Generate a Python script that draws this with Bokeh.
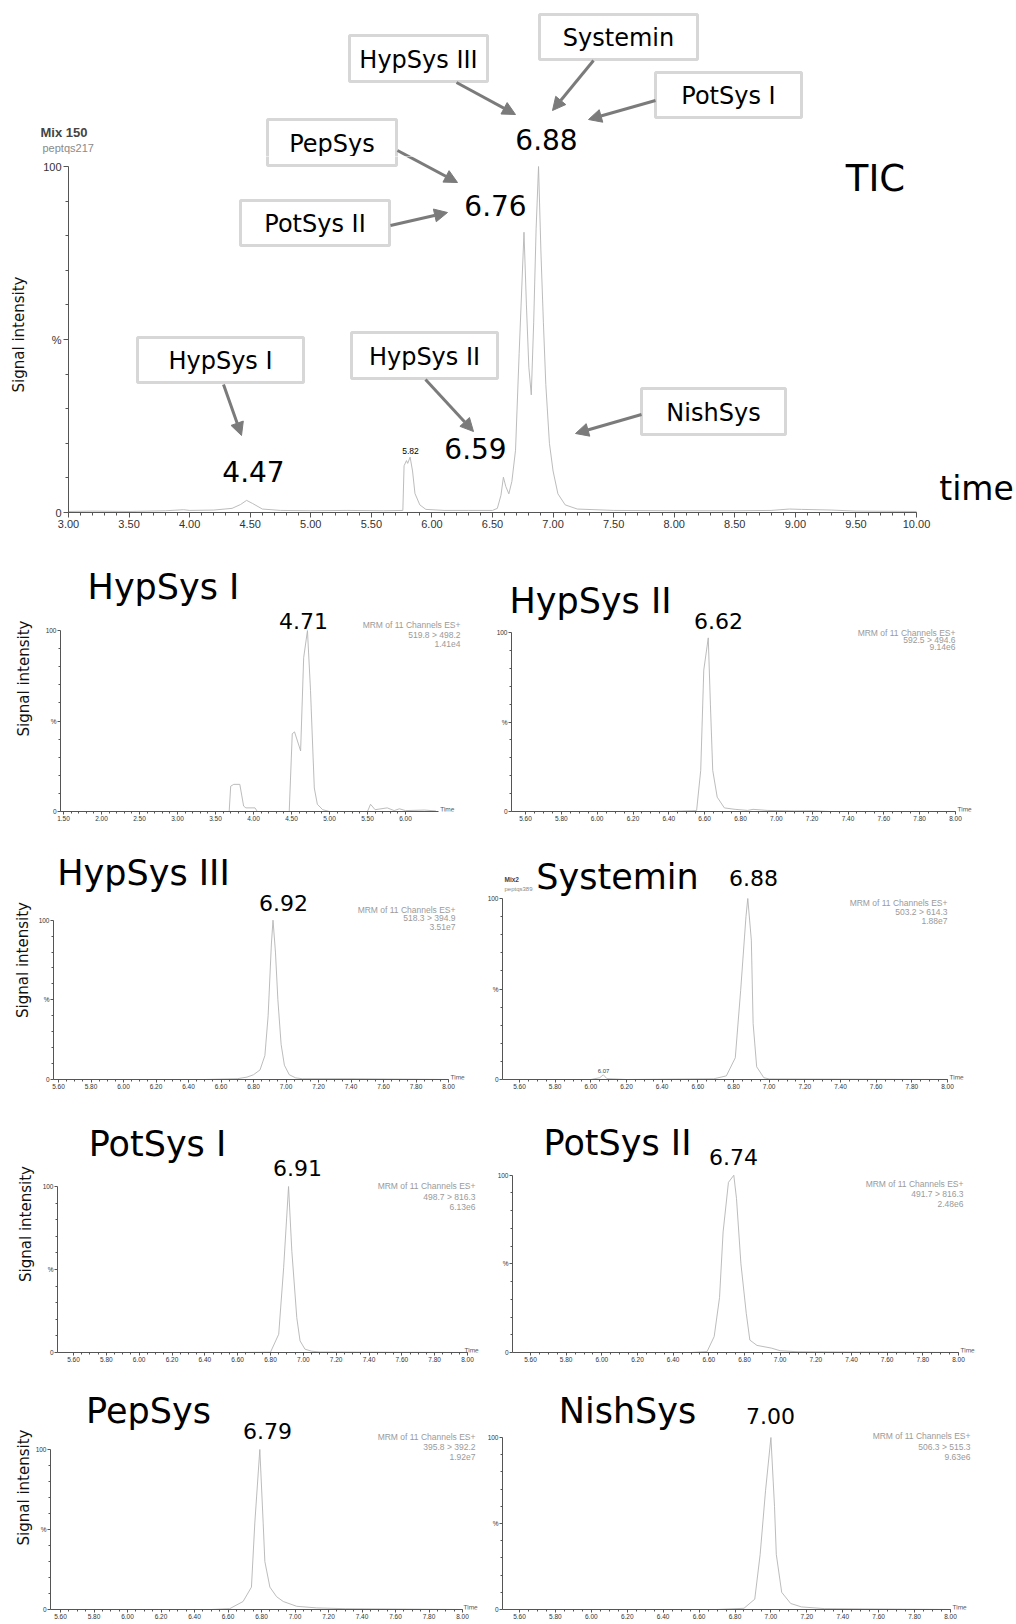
from bokeh.plotting import figure
from bokeh.models import (Label, Arrow, NormalHead, BoxAnnotation,
                          FixedTicker, Range1d, PrintfTickFormatter)
from bokeh.layouts import column, row
from bokeh.embed import file_html
from bokeh.resources import INLINE

# ---------------------------------------------------------------- data
# Total ion chromatogram (time in min, relative signal in %)
tic_time = [3.00, 3.20, 3.50, 3.80, 3.95, 4.00, 4.20, 4.35, 4.42, 4.47, 4.52, 4.60,
            4.75, 5.00, 5.30, 5.60, 5.76, 5.77, 5.79, 5.80, 5.82, 5.84, 5.86, 5.90,
            5.95, 6.10, 6.30, 6.50, 6.54, 6.57, 6.59, 6.61, 6.635, 6.66, 6.69, 6.72,
            6.76, 6.78, 6.80, 6.82, 6.84, 6.86, 6.88, 6.90, 6.92, 6.94, 6.97, 7.00,
            7.04, 7.10, 7.20, 7.50, 8.00, 8.50, 8.80, 8.95, 9.05, 9.30, 9.50, 10.00]
tic_signal = [0.3, 0.4, 0.3, 0.5, 0.8, 0.6, 0.7, 1.2, 2.3, 3.5, 2.6, 1.0,
              0.6, 0.5, 0.6, 0.5, 0.6, 13.5, 15.0, 14.2, 16.0, 12.0, 5.5, 2.2,
              0.9, 0.6, 0.6, 0.6, 1.2, 5.0, 10.2, 7.5, 5.4, 9.0, 18.0, 46.0,
              81.0, 60.0, 42.0, 34.0, 55.0, 82.0, 100.0, 75.0, 55.0, 37.0, 20.0, 12.0,
              5.4, 2.2, 1.0, 0.6, 0.5, 0.5, 0.6, 1.0, 0.9, 0.7, 0.4, 0.3]
tic_peaks = ["4.47", "5.82", "6.59", "6.76", "6.88"]
tic_ticks = [3.00, 3.50, 4.00, 4.50, 5.00, 5.50, 6.00, 6.50, 7.00, 7.50, 8.00,
             8.50, 9.00, 9.50, 10.00]

# Single MRM channels
hypsys1_time = [1.46, 3.00, 3.68, 3.70, 3.74, 3.82, 3.87, 3.90, 4.02, 4.05, 4.47,
                4.51, 4.54, 4.62, 4.66, 4.71, 4.75, 4.80, 4.84, 4.91, 5.00, 5.50,
                5.54, 5.60, 5.76, 5.85, 5.92, 6.00, 6.25, 6.40]
hypsys1_signal = [0.0, 0.0, 0.0, 14.0, 15.0, 15.0, 3.0, 2.0, 2.0, 0.0, 0.0,
                  43.0, 44.0, 33.5, 85.0, 100.0, 67.0, 13.0, 4.0, 1.0, 0.0, 0.0,
                  4.0, 1.0, 2.0, 0.5, 1.5, 0.5, 0.8, 0.3]

hypsys2_time = [5.52, 6.40, 6.555, 6.578, 6.595, 6.62, 6.632, 6.645, 6.67, 6.71,
                6.77, 6.84, 6.87, 6.95, 7.10, 7.20, 7.30, 8.00]
hypsys2_signal = [0.0, 0.0, 0.5, 23.0, 79.0, 97.0, 60.0, 23.0, 8.0, 2.0,
                  1.2, 0.6, 1.2, 0.6, 0.3, 0.4, 0.0, 0.0]

hypsys3_time = [5.52, 6.50, 6.70, 6.76, 6.80, 6.84, 6.87, 6.89, 6.91, 6.92, 6.935,
                6.95, 6.97, 6.99, 7.02, 7.06, 7.10, 7.40, 8.00]
hypsys3_signal = [0.0, 0.0, 0.5, 1.5, 3.0, 6.0, 15.0, 40.0, 85.0, 100.0, 80.0,
                  50.0, 22.0, 9.0, 3.0, 1.0, 0.5, 0.5, 0.0]

systemin_time = [5.50, 6.00, 6.05, 6.07, 6.09, 6.20, 6.69, 6.76, 6.81, 6.84, 6.87,
                 6.88, 6.90, 6.91, 6.93, 6.97, 7.00, 8.00]
systemin_signal = [0.0, 0.0, 1.0, 2.6, 0.5, 0.0, 0.4, 2.0, 12.0, 49.0, 90.0,
                   100.0, 77.0, 31.0, 7.0, 1.0, 0.3, 0.0]

potsys1_time = [5.52, 6.60, 6.80, 6.85, 6.88, 6.91, 6.93, 6.96, 6.98, 7.01, 7.05,
                7.10, 8.00]
potsys1_signal = [0.0, 0.0, 0.2, 11.0, 51.0, 100.0, 61.0, 21.0, 7.0, 2.0, 0.8,
                  0.3, 0.0]

potsys2_time = [5.52, 6.50, 6.59, 6.63, 6.66, 6.68, 6.71, 6.74, 6.755, 6.78, 6.81,
                6.83, 6.87, 6.95, 7.00, 7.10, 8.00]
potsys2_signal = [0.0, 0.0, 0.5, 9.0, 31.0, 68.0, 96.0, 100.0, 87.0, 50.0, 22.0,
                  7.0, 4.0, 2.5, 1.0, 0.4, 0.0]

pepsys_time = [5.52, 6.50, 6.61, 6.69, 6.74, 6.76, 6.79, 6.81, 6.82, 6.85, 6.89,
               6.93, 7.01, 7.13, 7.30, 8.00]
pepsys_signal = [0.0, 0.0, 0.5, 5.0, 14.0, 54.0, 100.0, 54.0, 30.0, 14.0, 8.0,
                 5.0, 2.0, 1.0, 0.5, 0.0]

nishsys_time = [5.52, 6.70, 6.85, 6.91, 6.94, 6.97, 7.00, 7.02, 7.03, 7.06, 7.11,
                7.17, 7.30, 8.00]
nishsys_signal = [0.0, 0.0, 0.7, 6.0, 32.0, 69.0, 100.0, 60.0, 32.0, 10.0, 3.5,
                  1.5, 0.5, 0.0]

mrm_ticks = [5.60, 5.80, 6.00, 6.20, 6.40, 6.60, 6.80, 7.00, 7.20, 7.40, 7.60, 7.80, 8.00]
hypsys1_ticks = [1.50, 2.00, 2.50, 3.00, 3.50, 4.00, 4.50, 5.00, 5.50, 6.00]

panel_names = ["HypSys I", "HypSys II", "HypSys III", "Systemin",
               "PotSys I", "PotSys II", "PepSys", "NishSys"]
panel_peaks = ["4.71", "6.62", "6.92", "6.88", "6.91", "6.74", "6.79", "7.00"]
panel_transitions = ["519.8 > 498.2", "592.5 > 494.6", "518.3 > 394.9", "503.2 > 614.3",
                     "498.7 > 816.3", "491.7 > 816.3", "395.8 > 392.2", "506.3 > 515.3"]
panel_max_counts = ["1.41e4", "9.14e6", "3.51e7", "1.88e7",
                    "6.13e6", "2.48e6", "1.92e7", "9.63e6"]

# ---------------------------------------------------------------- styles
TRACE = "#b4b4b4"
AXIS = "#555555"
FRAME_GRAY = "#7b7b7b"
SANS = "DejaVu Sans"
ARIAL = "Liberation Sans"


class Frame:
    """Page-pixel geometry of one figure and the time/% <-> pixel mapping of its frame.

    fig:   (left, top, right, bottom) of the figure on the page
    frame: (left, top, right, bottom) of the plotting frame on the page
    xmap:  (time_a, px_a, time_b, px_b)
    ymap:  (px of 0 %, px of 100 %)
    """

    def __init__(self, fig, frame, xmap, ymap):
        self.x0, self.y0, self.x1, self.y1 = fig
        self.fl, self.ft, self.fr, self.fb = frame
        ta, pa, tb, pb = xmap
        self.ta, self.pa = ta, pa
        self.kx = (pb - pa) / (tb - ta)
        self.p0 = ymap[0]
        self.ky = (ymap[0] - ymap[1]) / 100.0

    def x(self, px):
        return self.ta + (px - self.pa) / self.kx

    def px(self, t):
        return self.pa + (t - self.ta) * self.kx

    def y(self, py):
        return (self.p0 - py) / self.ky

    def base_fig(self, axes=True):
        kw = dict(width=self.x1 - self.x0, height=self.y1 - self.y0,
                  x_range=Range1d(self.x(self.fl), self.x(self.fr)),
                  y_range=Range1d(self.y(self.fb), self.y(self.ft)),
                  output_backend="svg", toolbar_location=None,
                  min_border_left=self.fl - self.x0, min_border_right=self.x1 - self.fr,
                  min_border_top=self.ft - self.y0, min_border_bottom=self.y1 - self.fb,
                  outline_line_color=None, background_fill_color="white",
                  border_fill_color="white")
        if not axes:
            kw.update(x_axis_location=None, y_axis_location=None)
        p = figure(**kw)
        p.xgrid.visible = False
        p.ygrid.visible = False
        return p


def style_axes(p, fr, xticks, minor_step, axis_end, big=False, ylabel=None,
               ylabel_standoff=0):
    n = int(round((xticks[-1] - xticks[0]) / minor_step))
    minor = [round(xticks[0] + i * minor_step, 3) for i in range(n + 1)]
    xa = p.xaxis[0]
    xa.ticker = FixedTicker(ticks=xticks, minor_ticks=minor)
    xa.formatter = PrintfTickFormatter(format="%.2f")
    xa.bounds = (fr.x(fr.fl), axis_end)

    ya = p.yaxis[0]
    ya.ticker = FixedTicker(ticks=[0, 50, 100], minor_ticks=[10, 20, 30, 40, 60, 70, 80, 90])
    ya.major_label_overrides = {0: "0", 50: "%", 100: "100"}
    ya.bounds = (0, 100)

    for a in (xa, ya):
        a.axis_line_color = AXIS
        a.major_tick_line_color = AXIS
        a.minor_tick_line_color = AXIS
        a.major_tick_in = 0
        a.minor_tick_in = 0
        a.major_label_text_font = ARIAL
        a.major_label_text_color = "#333333"
        if big:
            a.major_tick_out = 5
            a.minor_tick_out = 3
            a.major_label_text_font_size = "11px"
            a.major_label_standoff = 2
        else:
            a.major_tick_out = 3
            a.minor_tick_out = 2
            a.major_label_text_font_size = "6.5px"
            a.major_label_standoff = 1
    if ylabel:
        ya.axis_label = ylabel
        ya.axis_label_text_font = SANS
        ya.axis_label_text_font_style = "normal"
        ya.axis_label_text_font_size = "15px"
        ya.axis_label_text_color = "#111111"
        ya.axis_label_standoff = ylabel_standoff


def text(p, fr, s, px, py, size, font=SANS, color="#000000", align="center",
         baseline="middle", style="normal"):
    p.add_layout(Label(x=fr.x(px), y=fr.y(py), text=s, text_font=font,
                       text_font_size=size, text_color=color, text_align=align,
                       text_baseline=baseline, text_font_style=style))


# ---------------------------------------------------------------- TIC
# The TIC area is split in two figures at y = SPLIT: a header strip (run name,
# upper call-outs) and the chromatogram itself with its axes.
SPLIT = 156
TIC_X = (3.0, 68, 10.0, 916)
TIC_Y = (512, 166)
head = Frame((0, 0, 1016, SPLIT), (0, 0, 1016, SPLIT), TIC_X, TIC_Y)
main = Frame((0, SPLIT, 1016, 545), (68, SPLIT, 1016, 512), TIC_X, TIC_Y)

phead = head.base_fig(axes=False)
ptic = main.base_fig()
style_axes(ptic, main, tic_ticks, 0.1, 10.0, big=True, ylabel="Signal intensity",
           ylabel_standoff=12)
ptic.line(tic_time, tic_signal, line_color=TRACE, line_width=0.9)

text(phead, head, "Mix 150", 40, 132, "13px", font=ARIAL, color="#444444",
     align="left", style="bold")
text(phead, head, "peptqs217", 42, 147, "11px", font=ARIAL, color="#8a8a8a",
     align="left")
text(ptic, main, "TIC", 875, 178, "37px")
text(ptic, main, "time", 976, 488, "33px")

peak_label_px = [(253, 471), (410, 450), (475, 448), (495, 205), (546, 139)]
for s, (px, py) in zip(tic_peaks, peak_label_px):
    size = "8.5px" if s == "5.82" else "28px"
    font = ARIAL if s == "5.82" else SANS
    if py < SPLIT:
        text(phead, head, s, px, py, size, font=font)
    else:
        text(ptic, main, s, px, py, size, font=font)

# call-out boxes: name, box (left, top, right, bottom), arrow start, arrow end
callouts = [
    ("HypSys III", (349, 35, 487, 81), (456, 82), (515, 114)),
    ("Systemin", (539, 14, 697, 59), (593, 60), (552, 110)),
    ("PotSys I", (655, 72, 801, 117), (655, 100), (588, 119)),
    ("PepSys", (267, 119, 396, 165), (397, 150), (457, 182)),
    ("PotSys II", (240, 200, 389, 245), (390, 225), (447, 212)),
    ("HypSys I", (137, 337, 303, 382), (223, 384), (241, 435)),
    ("HypSys II", (351, 332, 497, 378), (425, 379), (473, 431)),
    ("NishSys", (641, 388, 785, 434), (641, 414), (575, 433)),
]
for name, (l, t, r, b), (sx, sy), (ex, ey) in callouts:
    cy = (t + b) / 2 + 1
    for p, fr, lo, hi in ((phead, head, 0, SPLIT), (ptic, main, SPLIT, 545)):
        if t < hi and b > lo:
            p.add_layout(BoxAnnotation(left=fr.x(l), right=fr.x(r), top=fr.y(t),
                                       bottom=fr.y(b), fill_color="white",
                                       fill_alpha=1.0, line_color=FRAME_GRAY,
                                       line_width=3))
        if min(sy, ey) - 8 < hi and max(sy, ey) + 8 > lo:
            p.add_layout(Arrow(end=NormalHead(size=13, fill_color=FRAME_GRAY,
                                              line_color=FRAME_GRAY, line_width=1),
                               x_start=fr.x(sx), y_start=fr.y(sy),
                               x_end=fr.x(ex), y_end=fr.y(ey),
                               line_color=FRAME_GRAY, line_width=3))
        if lo <= cy < hi:
            text(p, fr, name, (l + r) / 2, cy, "24px")

# ---------------------------------------------------------------- MRM panels
traces = [(hypsys1_time, hypsys1_signal), (hypsys2_time, hypsys2_signal),
          (hypsys3_time, hypsys3_signal), (systemin_time, systemin_signal),
          (potsys1_time, potsys1_signal), (potsys2_time, potsys2_signal),
          (pepsys_time, pepsys_signal), (nishsys_time, nishsys_signal)]

# per panel: figure box, y-axis x, 0 % y, 100 % y, x mapping, axis end,
# title pos, peak label pos, MRM right edge & line ys, y-label standoff, "Time" offset
geom = [
    ((0, 545, 480, 840), 60, 817, 632, (1.5, 63, 6.0, 405), 6.43,
     (163, 587), (303, 622), 460, (626, 637, 646), 10, 2),
    ((480, 545, 1016, 840), 511, 811, 632, (5.6, 525, 8.0, 955), 8.0,
     (590, 600), (718, 620), 955, (632, 639, 646), None, 2),
    ((0, 840, 480, 1095), 53, 1080, 920, (5.6, 58, 8.0, 448), 8.0,
     (143, 873), (283, 903), 455, (910, 918, 927), 4, 2),
    ((480, 840, 1016, 1095), 502, 1079, 898, (5.6, 519, 8.0, 947), 8.0,
     (617, 876), (753, 877), 947, (902, 911, 920), None, 2),
    ((0, 1095, 480, 1365), 57, 1352, 1186, (5.6, 73, 8.0, 467), 8.0,
     (157, 1143), (297, 1167), 475, (1185, 1196, 1206), 5, -3),
    ((480, 1095, 1016, 1365), 512, 1356, 1176, (5.6, 530, 8.0, 958), 8.0,
     (617, 1143), (733, 1157), 963, (1185, 1195, 1205), None, 2),
    ((0, 1365, 480, 1624), 50, 1609, 1449, (5.6, 60, 8.0, 462), 8.0,
     (148, 1410), (267, 1430), 475, (1436, 1446, 1456), 0, 1),
    ((480, 1365, 1016, 1624), 502, 1609, 1437, (5.6, 519, 8.0, 950), 8.0,
     (627, 1410), (770, 1415), 970, (1435, 1446, 1456), None, 2),
]

panels = []
frames = []
for i, (box, ax, ay, a100, xmap, axis_end, tpos, ppos, mrm_x, mrm_ys, stand,
        toff) in enumerate(geom):
    fr = Frame(box, (ax, box[1], box[2], ay), xmap, (ay, a100))
    p = fr.base_fig()
    ticks = hypsys1_ticks if i == 0 else mrm_ticks
    step = 0.1 if i == 0 else 0.05
    style_axes(p, fr, ticks, step, axis_end,
               ylabel="Signal intensity" if stand is not None else None,
               ylabel_standoff=stand or 0)
    t, s = traces[i]
    p.line(t, s, line_color=TRACE, line_width=0.9)

    text(p, fr, panel_names[i], tpos[0], tpos[1], "35px")
    text(p, fr, panel_peaks[i], ppos[0], ppos[1], "22px")
    for line_text, ly in zip(["MRM of 11 Channels ES+", panel_transitions[i],
                              panel_max_counts[i]], mrm_ys):
        text(p, fr, line_text, mrm_x, ly, "8.5px", font=ARIAL, color="#9a9a9a",
             align="right")
    text(p, fr, "Time", fr.px(axis_end) + toff, ay - 2, "6.5px", font=ARIAL,
         color="#555555", align="left")
    panels.append(p)
    frames.append(fr)

# run header and a minor peak tag on the Systemin channel
text(panels[3], frames[3], "Mix2", 504, 879, "6.5px", font=ARIAL, color="#444444",
     align="left", style="bold")
text(panels[3], frames[3], "peptqs389", 504, 888, "6px", font=ARIAL, color="#8a8a8a",
     align="left")
text(panels[3], frames[3], "6.07", 603, 1070, "6px", font=ARIAL, color="#444444")

# each figure sits in its own row so that frames are not aligned across figures
layout = column(row(phead), row(ptic),
                row(panels[0], panels[1]),
                row(panels[2], panels[3]),
                row(panels[4], panels[5]),
                row(panels[6], panels[7]))

with open("out.html", "w") as f:
    f.write(file_html(layout, INLINE))
